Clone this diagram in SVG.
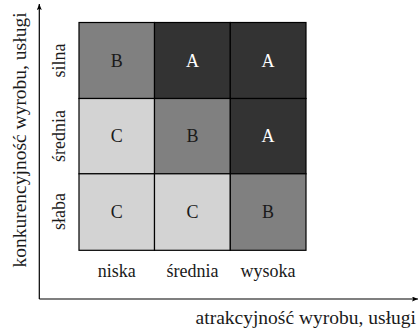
<svg xmlns="http://www.w3.org/2000/svg" width="418" height="331" viewBox="0 0 418 331">
<defs>
<marker id="arr" viewBox="0 0 10 10" refX="10" refY="5" markerWidth="6" markerHeight="5" orient="auto" markerUnits="userSpaceOnUse" preserveAspectRatio="none">
<path d="M0,0 L10,5 L0,10 L2,5 z" fill="#000"/>
</marker>
<style>
.t{font-family:"Liberation Serif","DejaVu Serif",serif;font-size:18px;fill:#1a1a1a;}
.a{font-size:19.5px;}
.c{text-anchor:middle;}
.w{fill:#fff;}
.cell{stroke:#000;stroke-width:1.2;}
.d{fill:#333333;}
.m{fill:#808080;}
.l{fill:#d3d3d3;}
</style>
</defs>
<rect width="418" height="331" fill="#fff"/>
<g id="cell-silna-niska"><rect class="cell m" x="79" y="22.5" width="75.5" height="76"/><text class="t c" x="116.7" y="66.5">B</text></g>
<g id="cell-silna-srednia"><rect class="cell d" x="154.5" y="22.5" width="75.8" height="76"/><text class="t c w" x="192.4" y="66.5">A</text></g>
<g id="cell-silna-wysoka"><rect class="cell d" x="230.3" y="22.5" width="75.7" height="76"/><text class="t c w" x="268.1" y="66.5">A</text></g>
<g id="cell-srednia-niska"><rect class="cell l" x="79" y="98.5" width="75.5" height="75.3"/><text class="t c" x="116.7" y="142">C</text></g>
<g id="cell-srednia-srednia"><rect class="cell m" x="154.5" y="98.5" width="75.8" height="75.3"/><text class="t c" x="192.4" y="142">B</text></g>
<g id="cell-srednia-wysoka"><rect class="cell d" x="230.3" y="98.5" width="75.7" height="75.3"/><text class="t c w" x="268.1" y="142">A</text></g>
<g id="cell-slaba-niska"><rect class="cell l" x="79" y="173.8" width="75.5" height="76.5"/><text class="t c" x="116.7" y="217.5">C</text></g>
<g id="cell-slaba-srednia"><rect class="cell l" x="154.5" y="173.8" width="75.8" height="76.5"/><text class="t c" x="192.4" y="217.5">C</text></g>
<g id="cell-slaba-wysoka"><rect class="cell m" x="230.3" y="173.8" width="75.7" height="76.5"/><text class="t c" x="268.1" y="217.5">B</text></g>
<g id="connectors">
<line x1="39.3" y1="299" x2="39.3" y2="4" stroke="#000" stroke-width="1.2" marker-end="url(#arr)"/>
<line x1="39.3" y1="299" x2="418" y2="299" stroke="#000" stroke-width="1.2" marker-end="url(#arr)"/>
</g>
<g id="labels">
<text class="t c" transform="translate(65,60.5) rotate(-90)">silna</text>
<text class="t c" transform="translate(65,136) rotate(-90)">średnia</text>
<text class="t c" transform="translate(65,211.5) rotate(-90)">słaba</text>
<text class="t a c" transform="translate(25.5,140) rotate(-90)">konkurencyjność wyrobu, usługi</text>
<text class="t c" x="116.7" y="276.5">niska</text>
<text class="t c" x="192.4" y="276.5">średnia</text>
<text class="t c" x="268.1" y="276.5">wysoka</text>
<text class="t a" x="416" y="323.5" text-anchor="end">atrakcyjność wyrobu, usługi</text>
</g>
</svg>
